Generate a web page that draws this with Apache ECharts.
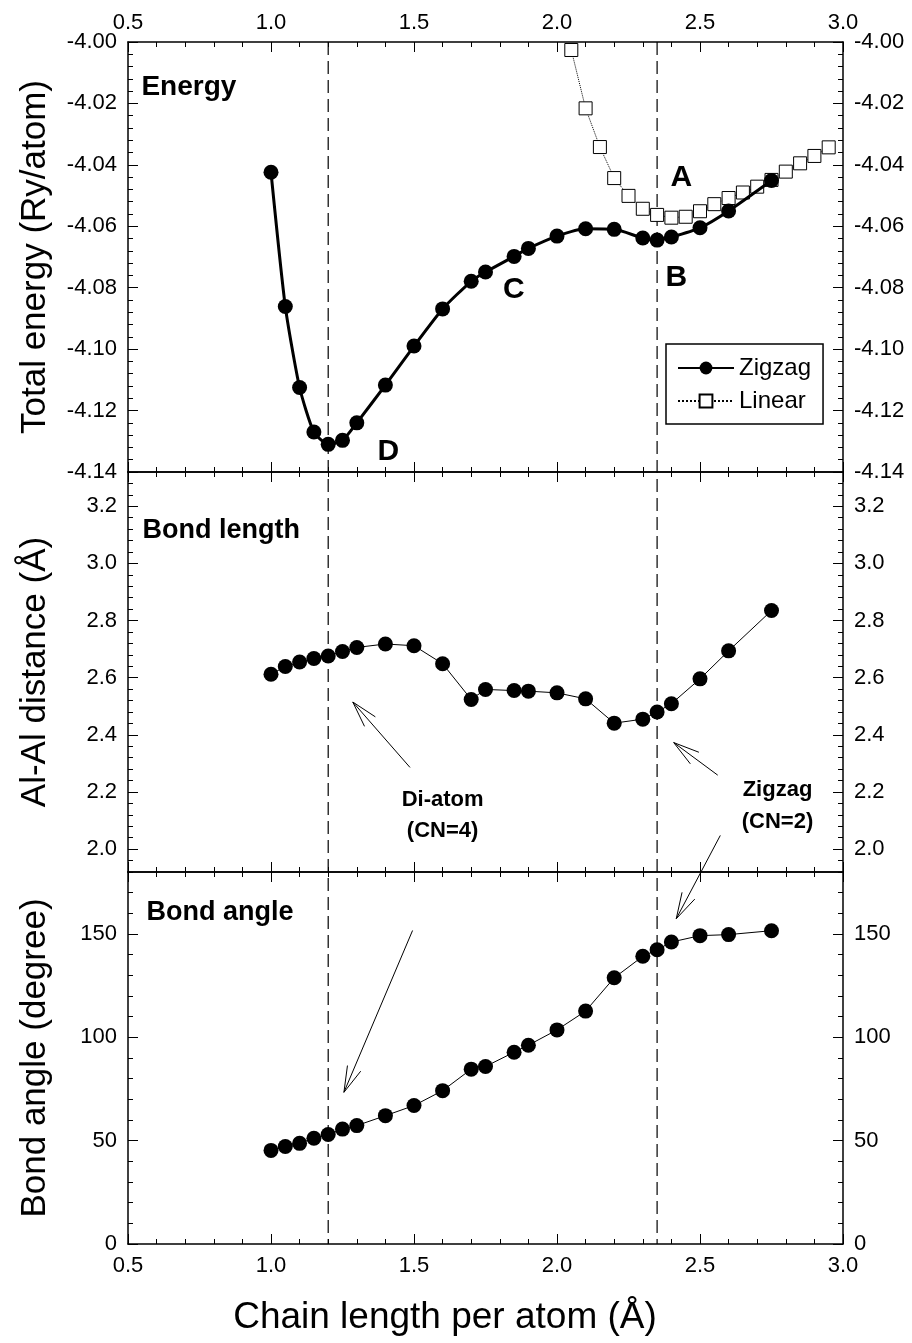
<!DOCTYPE html>
<html><head><meta charset="utf-8">
<script src="https://cdn.jsdelivr.net/npm/echarts@6/dist/echarts.min.js"></script>
<style>html,body{margin:0;padding:0;background:#fff}#c{width:912px;height:1343px}</style>
</head><body><div id="c"></div><script>
// ---------------- data ----------------
const chainLen = [1.0,1.05,1.1,1.15,1.2,1.25,1.3,1.4,1.5,1.6,1.7,1.75,1.85,1.9,2.0,2.1,2.2,2.3,2.35,2.4,2.5,2.6,2.75];
const zigzagEnergy = [-4.0424,-4.0861,-4.1125,-4.127,-4.131,-4.1297,-4.124,-4.1117,-4.099,-4.0869,-4.0779,-4.0749,-4.0698,-4.0672,-4.0632,-4.0608,-4.061,-4.0638,-4.0645,-4.0635,-4.0605,-4.055,-4.0451];
const linearLen = [2.05,2.1,2.15,2.2,2.25,2.3,2.35,2.4,2.45,2.5,2.55,2.6,2.65,2.7,2.75,2.8,2.85,2.9,2.95];
const linearEnergy = [-4.0026,-4.0216,-4.0342,-4.0443,-4.0501,-4.0543,-4.0563,-4.0572,-4.0569,-4.0551,-4.0528,-4.0508,-4.0490,-4.0471,-4.0449,-4.0422,-4.0395,-4.0371,-4.0343];
const bondLength = [2.612,2.639,2.655,2.667,2.676,2.692,2.706,2.718,2.712,2.649,2.524,2.559,2.555,2.553,2.547,2.526,2.441,2.455,2.48,2.509,2.596,2.694,2.835];
const bondAngle = [45.3,47.2,48.7,51.2,53.0,55.6,57.3,62.1,67.0,74.2,84.6,85.9,92.8,96.2,103.6,112.7,128.8,139.2,142.4,146.1,149.2,149.7,151.6];

const xTicks = [0.5,1.0,1.5,2.0,2.5,3.0];
const energyTicks = [-4.14,-4.12,-4.10,-4.08,-4.06,-4.04,-4.02,-4.00];
const bondTicks = [2.0,2.2,2.4,2.6,2.8,3.0,3.2];
const angleTicks = [0,50,100,150];
const markerLines = [1.2, 2.35];

// ---------------- layout ----------------
const FONT = "'Liberation Sans', Arial, Helvetica, sans-serif";
const grids = [
  {left:128, width:715, top:42, height:430},
  {left:128, width:715, top:472, height:400},
  {left:128, width:715, top:872, height:372}
];
const yRanges = [
  {min:-4.14, max:-4.00, minor:0.004, ticks:energyTicks, fmt:v=>v.toFixed(2)},
  {min:1.92, max:3.32, minor:0.04, ticks:bondTicks, fmt:v=>v.toFixed(1)},
  {min:0, max:180, minor:10, ticks:angleTicks, fmt:v=>String(Math.round(v))}
];
const lineStyle = {color:'#000', width:1.5};
const xAxes = [], yAxes = [];
for (let g=0; g<3; g++) {
  ['bottom','top'].forEach(pos=>{
    const showLab = (g===0 && pos==='top') || (g===2 && pos==='bottom');
    xAxes.push({type:'value', gridIndex:g, position:pos, min:0.5, max:3.0,
      axisLine:{show:true, onZero:false, lineStyle},
      axisTick:{show:true, inside:true, length:10, customValues:xTicks, lineStyle:{color:'#000',width:1}},
      axisLabel:{show:showLab, customValues:xTicks, formatter:v=>v.toFixed(1), color:'#000', fontSize:22, fontFamily:FONT, margin: pos==='top'?8:11},
      splitLine:{show:false}});
  });
  ['bottom','top'].forEach(pos=>{
    xAxes.push({type:'value', gridIndex:g, position:pos, min:0.5, max:3.0, interval:0.1,
      axisLine:{show:false, onZero:false}, axisTick:{show:true, inside:true, length:5, lineStyle:{color:'#000',width:1}},
      axisLabel:{show:false}, splitLine:{show:false}});
  });
  const r = yRanges[g];
  ['left','right'].forEach(pos=>{
    yAxes.push({type:'value', gridIndex:g, position:pos, min:r.min, max:r.max,
      axisLine:{show:true, onZero:false, lineStyle},
      axisTick:{show:true, inside:true, length:10, customValues:r.ticks, lineStyle:{color:'#000',width:1}},
      axisLabel:{show:true, customValues:r.ticks, formatter:r.fmt, color:'#000', fontSize:22, fontFamily:FONT, margin:11},
      splitLine:{show:false}});
  });
  ['left','right'].forEach(pos=>{
    yAxes.push({type:'value', gridIndex:g, position:pos, min:r.min, max:r.max, interval:r.minor,
      axisLine:{show:false, onZero:false}, axisTick:{show:true, inside:true, length:5, lineStyle:{color:'#000',width:1}},
      axisLabel:{show:false}, splitLine:{show:false}});
  });
}
const zip = (a,b)=>a.map((v,i)=>[v,b[i]]);
const dotStyle = {color:'#000'};
const option = {
  animation:false,
  backgroundColor:'#fff',
  grid: grids,
  xAxis: xAxes,
  yAxis: yAxes,
  legend: {
    data:['Zigzag','Linear'], orient:'vertical', left:666, top:344,
    borderColor:'#000', borderWidth:1.5, padding:[12,12,11,11],
    itemWidth:56, itemHeight:16, itemGap:9,
    textStyle:{fontSize:24, fontFamily:FONT, color:'#000'}
  },
  series: [
    {name:'Linear', type:'line', xAxisIndex:0, yAxisIndex:0, data:zip(linearLen, linearEnergy),
      symbol:'rect', symbolSize:13, itemStyle:{color:'#fff', borderColor:'#000', borderWidth:1},
      lineStyle:{color:'#000', width:1, type:'dotted'}, z:2},
    {name:'Zigzag', type:'line', xAxisIndex:0, yAxisIndex:0, data:zip(chainLen, zigzagEnergy),
      symbol:'circle', symbolSize:15, itemStyle:dotStyle, lineStyle:{color:'#000', width:3}, smooth:0.2, z:3},
    {name:'Bond length', type:'line', xAxisIndex:4, yAxisIndex:4, data:zip(chainLen, bondLength),
      symbol:'circle', symbolSize:15, itemStyle:dotStyle, lineStyle:{color:'#000', width:1}},
    {name:'Bond angle', type:'line', xAxisIndex:8, yAxisIndex:8, data:zip(chainLen, bondAngle),
      symbol:'circle', symbolSize:15, itemStyle:dotStyle, lineStyle:{color:'#000', width:1}}
  ]
};
const chart = echarts.init(document.getElementById('c'));
chart.setOption(option);

// ---------------- annotations (data coordinates) ----------------
const P = (g, x, y) => chart.convertToPixel({xAxisIndex:4*g, yAxisIndex:4*g}, [x, y]);
const texts = [
  {g:0, x:0.547, y:-4.0147, t:'Energy', size:28, align:'left'},
  {g:0, x:2.435, y:-4.0443, t:'A', size:30, align:'center'},
  {g:0, x:2.417, y:-4.0769, t:'B', size:30, align:'center'},
  {g:0, x:1.849, y:-4.0808, t:'C', size:30, align:'center'},
  {g:0, x:1.41, y:-4.1334, t:'D', size:30, align:'center'},
  {g:1, x:0.551, y:3.116, t:'Bond length', size:27, align:'left'},
  {g:1, x:1.60, y:2.171, t:'Di-atom', size:22, align:'center'},
  {g:1, x:1.60, y:2.065, t:'(CN=4)', size:22, align:'center'},
  {g:1, x:2.771, y:2.206, t:'Zigzag', size:22, align:'center'},
  {g:1, x:2.771, y:2.095, t:'(CN=2)', size:22, align:'center'},
  {g:2, x:0.565, y:160.6, t:'Bond angle', size:27, align:'left'}
];
// arrows: head (g,x,y) and tail (g,x,y)
const arrows = [
  {head:[1,1.286,2.515], tail:[1,1.486,2.286]},
  {head:[1,2.408,2.373], tail:[1,2.562,2.259]},
  {head:[2,2.417,157.4], tail:[1,2.571,2.048]},
  {head:[2,1.255,73.4], tail:[2,1.495,151.7]}
];
const gr = [];
markerLines.forEach(x=>{
  const a = P(0, x, -4.00), b = P(2, x, 0);
  gr.push({type:'line', shape:{x1:a[0], y1:a[1], x2:b[0], y2:b[1]}, style:{stroke:'#000', lineWidth:1.2, lineDash:[13,6]}, z:1, silent:true});
});
texts.forEach(o=>{
  const p = P(o.g, o.x, o.y);
  gr.push({type:'text', x:p[0], y:p[1], style:{text:o.t, fill:'#000', font:'bold '+o.size+'px '+FONT, textAlign:o.align, textVerticalAlign:'middle'}, z:10, silent:true});
});
arrows.forEach(o=>{
  const h = P(o.head[0], o.head[1], o.head[2]);
  const t = P(o.tail[0], o.tail[1], o.tail[2]);
  gr.push({type:'line', shape:{x1:t[0], y1:t[1], x2:h[0], y2:h[1]}, style:{stroke:'#000', lineWidth:1}, z:10, silent:true});
  const ang = Math.atan2(t[1]-h[1], t[0]-h[0]);
  [0.27,-0.27].forEach(d=>{
    gr.push({type:'line', shape:{x1:h[0], y1:h[1], x2:h[0]+27*Math.cos(ang+d), y2:h[1]+27*Math.sin(ang+d)}, style:{stroke:'#000', lineWidth:1}, z:10, silent:true});
  });
});
// axis titles
const titleFont = '35px '+FONT;
const gc = i => grids[i].top + grids[i].height/2;
[['Total energy (Ry/atom)',0],['Al-Al distance (Å)',1],['Bond angle (degree)',2]].forEach(([t,i])=>{
  gr.push({type:'text', x:35, y:gc(i), rotation:Math.PI/2, style:{text:t, fill:'#000', font:titleFont, textAlign:'center', textVerticalAlign:'middle'}, silent:true});
});
gr.push({type:'text', x:445, y:1318, style:{text:'Chain length per atom (Å)', fill:'#000', font:'37px '+FONT, textAlign:'center', textVerticalAlign:'middle'}, silent:true});
chart.setOption({graphic: gr});
</script></body></html>
